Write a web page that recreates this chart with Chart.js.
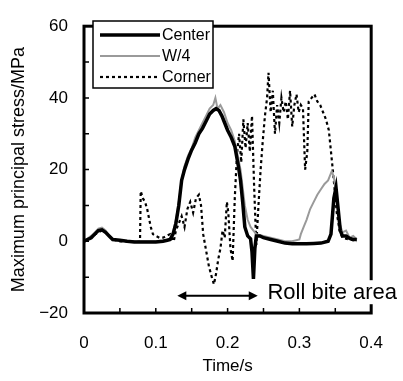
<!DOCTYPE html>
<html>
<head>
<meta charset="utf-8">
<script src="https://cdn.jsdelivr.net/npm/chart.js@4.4.0/dist/chart.umd.min.js"></script>
<style>
  html, body { margin: 0; padding: 0; background: #fff; }
  #wrap { width: 403px; height: 381px; }
</style>
</head>
<body>
<div id="wrap"><canvas id="stressChart" width="403" height="381"></canvas></div>
<script>
// Time (s) and maximum principal stress (MPa)
const centerTime = [
    0, 0.005, 0.01, 0.015, 0.02, 0.025, 0.03, 0.035, 0.04, 0.05,
    0.06, 0.07, 0.08, 0.09, 0.1, 0.11, 0.116, 0.12, 0.124, 0.128,
    0.132, 0.136, 0.14, 0.145, 0.15, 0.155, 0.16, 0.165, 0.17, 0.175,
    0.18, 0.184, 0.188, 0.192, 0.196, 0.2, 0.205, 0.21, 0.215, 0.218,
    0.221, 0.224, 0.228, 0.232, 0.234, 0.236, 0.238, 0.24, 0.245, 0.25,
    0.26, 0.27, 0.28, 0.29, 0.3, 0.31, 0.32, 0.33, 0.34, 0.344,
    0.348, 0.351, 0.354, 0.357, 0.36, 0.365, 0.37, 0.375, 0.38
];
const centerStress = [
    0, 0.5, 1, 2, 3, 3.2, 2.5, 1.5, 0.5, 0.3,
    0, -0.2, -0.2, -0.2, -0.2, 0, 0.3, 0.5, 2, 5,
    10, 17, 20, 23, 25.5, 27.5, 30, 31.5, 33.5, 35.5,
    36.5, 37, 36.5, 35, 33, 31, 29, 26.5, 21, 17,
    11, 4, 1.5, 0.7, -3, -10.5, -2, 1.5, 1.5, 1,
    0.5, 0, -0.5, -0.7, -0.7, -0.7, -0.6, -0.5, 0, 2,
    12, 15, 9, 3, 1.5, 1.5, 0.8, 0.5, 0.5
];

const w4Time = [
    0, 0.005, 0.01, 0.015, 0.02, 0.025, 0.03, 0.035, 0.04, 0.05,
    0.06, 0.07, 0.08, 0.09, 0.1, 0.11, 0.116, 0.12, 0.124, 0.128,
    0.132, 0.136, 0.14, 0.145, 0.15, 0.155, 0.16, 0.165, 0.17, 0.175,
    0.18, 0.183, 0.186, 0.19, 0.195, 0.2, 0.205, 0.21, 0.215, 0.218,
    0.221, 0.224, 0.228, 0.232, 0.236, 0.24, 0.25, 0.26, 0.27, 0.28,
    0.29, 0.3, 0.302, 0.306, 0.31, 0.315, 0.32, 0.325, 0.33, 0.335,
    0.34, 0.345, 0.348, 0.352, 0.356, 0.36, 0.365, 0.37, 0.375, 0.38
];
const w4Stress = [
    0, 0.8, 1.5, 2.5, 3.5, 3.8, 3, 1.5, 0.5, 0.3,
    0, 0, 0, 0, 0, 0.2, 0.4, 0.8, 2.5, 6,
    11, 17, 21, 24, 26, 29, 31, 33, 35, 37,
    38, 40, 37, 38, 36, 33, 31, 28, 23, 20,
    15, 10, 6, 4, 3, 2, 1.5, 1, 0.5, 0,
    0, 0.5, 2, 4, 6, 9, 11, 13, 14.5, 16,
    17, 19.5, 18, 12, 5, 2.5, 3, 1, 1.5, 0.5
];

const cornerTime = [
    0, 0.02, 0.025, 0.03, 0.04, 0.05, 0.07, 0.078, 0.079, 0.082,
    0.085, 0.088, 0.09, 0.093, 0.096, 0.1, 0.105, 0.11, 0.115, 0.12,
    0.125, 0.128, 0.132, 0.136, 0.14, 0.144, 0.148, 0.152, 0.156, 0.16,
    0.163, 0.166, 0.17, 0.174, 0.178, 0.181, 0.184, 0.187, 0.19, 0.193,
    0.196, 0.199, 0.201, 0.204, 0.207, 0.21, 0.213, 0.216, 0.219, 0.222,
    0.225, 0.228, 0.231, 0.234, 0.237, 0.24, 0.243, 0.246, 0.249, 0.252,
    0.255, 0.257, 0.26, 0.263, 0.266, 0.269, 0.272, 0.275, 0.278, 0.281,
    0.284, 0.287, 0.29, 0.293, 0.296, 0.299, 0.302, 0.305, 0.308, 0.311,
    0.313, 0.317, 0.321, 0.325, 0.329, 0.333, 0.337, 0.341, 0.344, 0.347,
    0.352, 0.356, 0.36, 0.37, 0.38
];
const cornerStress = [
    0, 2.5, 3, 2.5, 0.5, 0, 0, 0, 14, 12,
    11, 9, 7, 4, 2, 1.5, 1, 1, 1.5, 2,
    0, 3, 5, 7, 4, 9, 11, 8, 12, 13,
    10, 2, -2.5, -7, -10, -12, -9, -5, -2, 3,
    1, 11, 8, -2, -5.5, 12, 24, 30, 22, 34,
    26, 33, 25, 35, 15, -1, 10, 20, 28, 35,
    40, 47, 36, 42, 30, 38, 33, 40, 36, 39,
    34, 42, 32, 38, 41, 36, 38, 37, 20, 25,
    39, 40, 41, 39, 38, 36, 34, 31, 25, 19,
    8, 3, 1, 0.5, 0
];

const xTickLabels = ['0', '0.1', '0.2', '0.3', '0.4'];
const yTickLabels = ['\u221220', '0', '20', '40', '60'];
const seriesNames = ['Center', 'W/4', 'Corner'];

const toPoints = (ts, vs) => ts.map((t, i) => ({ x: t, y: vs[i] }));

const FONT = "'Liberation Sans', Arial, sans-serif";

// frame with inward ticks
const framePlugin = {
    id: 'frame',
    afterDatasetsDraw(chart) {
        const { ctx, chartArea: a, scales: { x, y } } = chart;
        ctx.save();
        ctx.strokeStyle = '#000';
        ctx.lineWidth = 1.5;
        ctx.beginPath();
        x.ticks.forEach(t => {
            const px = x.getPixelForValue(t.value);
            ctx.moveTo(px, a.bottom);
            ctx.lineTo(px, a.bottom - 5);
        });
        y.ticks.forEach(t => {
            const py = y.getPixelForValue(t.value);
            ctx.moveTo(a.left, py);
            ctx.lineTo(a.left + 5, py);
        });
        ctx.stroke();
        ctx.lineWidth = 3;
        ctx.strokeRect(a.left, a.top, a.right - a.left, a.bottom - a.top);
        ctx.restore();
    }
};

// legend box and the roll bite annotation
const notesPlugin = {
    id: 'notes',
    afterDraw(chart) {
        const { ctx, scales: { x, y } } = chart;
        const sets = chart.data.datasets;
        ctx.save();
        ctx.fillStyle = '#fff';
        ctx.fillRect(93, 21, 120, 67);
        ctx.strokeStyle = '#000';
        ctx.lineWidth = 1.5;
        ctx.strokeRect(93, 21, 120, 67);
        const rows = [35, 56, 77];
        sets.forEach((ds, i) => {
            ctx.beginPath();
            ctx.strokeStyle = ds.borderColor;
            ctx.lineWidth = ds.borderWidth;
            ctx.setLineDash(ds.borderDash || []);
            ctx.moveTo(100, rows[i]);
            ctx.lineTo(160, rows[i]);
            ctx.stroke();
            ctx.setLineDash([]);
            ctx.fillStyle = '#000';
            ctx.font = '16px ' + FONT;
            ctx.textBaseline = 'middle';
            ctx.fillText(seriesNames[i], 162, rows[i] + 1);
        });

        // double arrow for the roll bite area
        const ay = y.getPixelForValue(-15.2);
        const x1 = x.getPixelForValue(0.13);
        const x2 = x.getPixelForValue(0.242);
        ctx.strokeStyle = '#000';
        ctx.fillStyle = '#000';
        ctx.lineWidth = 2;
        ctx.beginPath();
        ctx.moveTo(x1 + 6, ay);
        ctx.lineTo(x2 - 6, ay);
        ctx.stroke();
        ctx.beginPath();
        ctx.moveTo(x1, ay); ctx.lineTo(x1 + 9, ay - 4.5); ctx.lineTo(x1 + 9, ay + 4.5);
        ctx.closePath(); ctx.fill();
        ctx.beginPath();
        ctx.moveTo(x2, ay); ctx.lineTo(x2 - 9, ay - 4.5); ctx.lineTo(x2 - 9, ay + 4.5);
        ctx.closePath(); ctx.fill();

        ctx.font = '22px ' + FONT;
        ctx.textBaseline = 'middle';
        const tx = x.getPixelForValue(0.2555);
        const ty = y.getPixelForValue(-14.2);
        const w = ctx.measureText('Roll bite area').width;
        ctx.fillStyle = '#fff';
        ctx.fillRect(tx - 3, ty - 12, w + 6, 24);
        ctx.fillStyle = '#000';
        ctx.fillText('Roll bite area', tx, ty + 1);
        ctx.restore();
    }
};

const stressChart = new Chart(document.getElementById('stressChart').getContext('2d'), {
    type: 'scatter',
    data: {
        datasets: [
            {
                label: seriesNames[0],
                data: toPoints(centerTime, centerStress),
                borderColor: '#000',
                borderWidth: 3.5
            },
            {
                label: seriesNames[1],
                data: toPoints(w4Time, w4Stress),
                borderColor: '#9a9a9a',
                borderWidth: 2
            },
            {
                label: seriesNames[2],
                data: toPoints(cornerTime, cornerStress),
                borderColor: '#000',
                borderWidth: 2.2,
                borderDash: [3, 3]
            }
        ]
    },
    options: {
        responsive: false,
        animation: false,
        devicePixelRatio: 1,
        showLine: true,
        elements: { point: { radius: 0 }, line: { tension: 0 } },
        layout: { padding: { left: 0, right: 23, top: 16, bottom: 0 } },
        plugins: { legend: { display: false }, tooltip: { enabled: false } },
        scales: {
            x: {
                type: 'linear',
                min: 0,
                max: 0.4,
                afterFit: s => { s.height = 68; },
                afterBuildTicks: s => {
                    s.ticks = [0, 0.05, 0.1, 0.15, 0.2, 0.25, 0.3, 0.35, 0.4].map(v => ({ value: v }));
                },
                grid: { display: false, drawTicks: false },
                border: { display: false },
                ticks: {
                    padding: 20,
                    maxRotation: 0,
                    autoSkip: false,
                    color: '#000',
                    font: { family: FONT, size: 17 },
                    callback: (v, i) => (i % 2 === 0 ? xTickLabels[i / 2] : '')
                },
                title: {
                    display: true,
                    text: 'Time/s',
                    color: '#000',
                    font: { family: FONT, size: 17 },
                    padding: { top: 0, bottom: 4 }
                }
            },
            y: {
                min: -20,
                max: 60,
                afterFit: s => { s.width = 84; },
                afterBuildTicks: s => {
                    s.ticks = [-20, -10, 0, 10, 20, 30, 40, 50, 60].map(v => ({ value: v }));
                },
                grid: { display: false, drawTicks: false },
                border: { display: false },
                ticks: {
                    padding: 16,
                    autoSkip: false,
                    color: '#000',
                    font: { family: FONT, size: 17 },
                    callback: (v, i) => (i % 2 === 0 ? yTickLabels[i / 2] : '')
                },
                title: {
                    display: true,
                    text: 'Maximum principal stress/MPa',
                    color: '#000',
                    font: { family: FONT, size: 18 },
                    padding: { top: 8, bottom: 0 }
                }
            }
        }
    },
    plugins: [framePlugin, notesPlugin]
});
</script>
</body>
</html>
